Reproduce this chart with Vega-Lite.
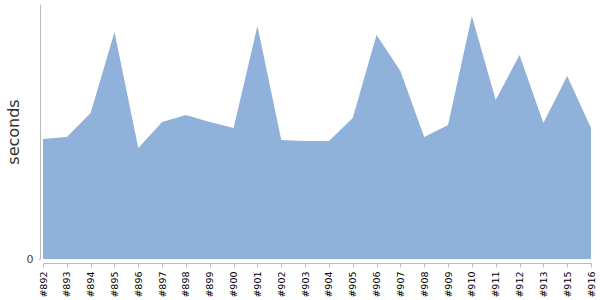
{
  "$schema": "https://vega.github.io/schema/vega-lite/v6.json",
  "autosize": "none",
  "padding": {"left": 43, "top": 4, "right": 9, "bottom": 41},
  "width": 548,
  "height": 255,
  "config": {
    "view": {"stroke": null},
    "font": "DejaVu Sans"
  },
  "data": {
    "values": [
      {"build": "#892", "seconds": 120},
      {"build": "#893", "seconds": 122},
      {"build": "#894", "seconds": 146},
      {"build": "#895", "seconds": 227},
      {"build": "#896", "seconds": 111},
      {"build": "#897", "seconds": 137},
      {"build": "#898", "seconds": 144},
      {"build": "#899", "seconds": 137},
      {"build": "#900", "seconds": 131},
      {"build": "#901", "seconds": 233},
      {"build": "#902", "seconds": 119},
      {"build": "#903", "seconds": 118},
      {"build": "#904", "seconds": 118},
      {"build": "#905", "seconds": 141},
      {"build": "#906", "seconds": 224},
      {"build": "#907", "seconds": 188},
      {"build": "#908", "seconds": 122},
      {"build": "#909", "seconds": 134},
      {"build": "#910", "seconds": 243},
      {"build": "#911", "seconds": 159},
      {"build": "#912", "seconds": 204},
      {"build": "#913", "seconds": 136},
      {"build": "#915", "seconds": 183},
      {"build": "#916", "seconds": 131}
    ]
  },
  "mark": {"type": "area", "color": "#8fb1da", "opacity": 1},
  "encoding": {
    "x": {
      "field": "build",
      "type": "ordinal",
      "sort": null,
      "scale": {"type": "point", "padding": 0},
      "axis": {
        "title": null,
        "offset": 4,
        "labelAngle": -90,
        "labelFontSize": 9.5,
        "labelColor": "#000",
        "labelPadding": 4,
        "tickSize": 4,
        "domainColor": "#bbb",
        "tickColor": "#bbb",
        "grid": false
      }
    },
    "y": {
      "field": "seconds",
      "type": "quantitative",
      "scale": {"domain": [0, 255], "nice": false},
      "axis": {
        "title": "seconds",
        "titleFontSize": 16,
        "titleFontWeight": "normal",
        "titleColor": "#333",
        "titlePadding": 5,
        "offset": 3,
        "values": [0],
        "labelFontSize": 11,
        "labelColor": "#444",
        "labelPadding": 5,
        "tickSize": 2,
        "domainColor": "#bbb",
        "tickColor": "#bbb",
        "grid": false
      }
    }
  }
}
